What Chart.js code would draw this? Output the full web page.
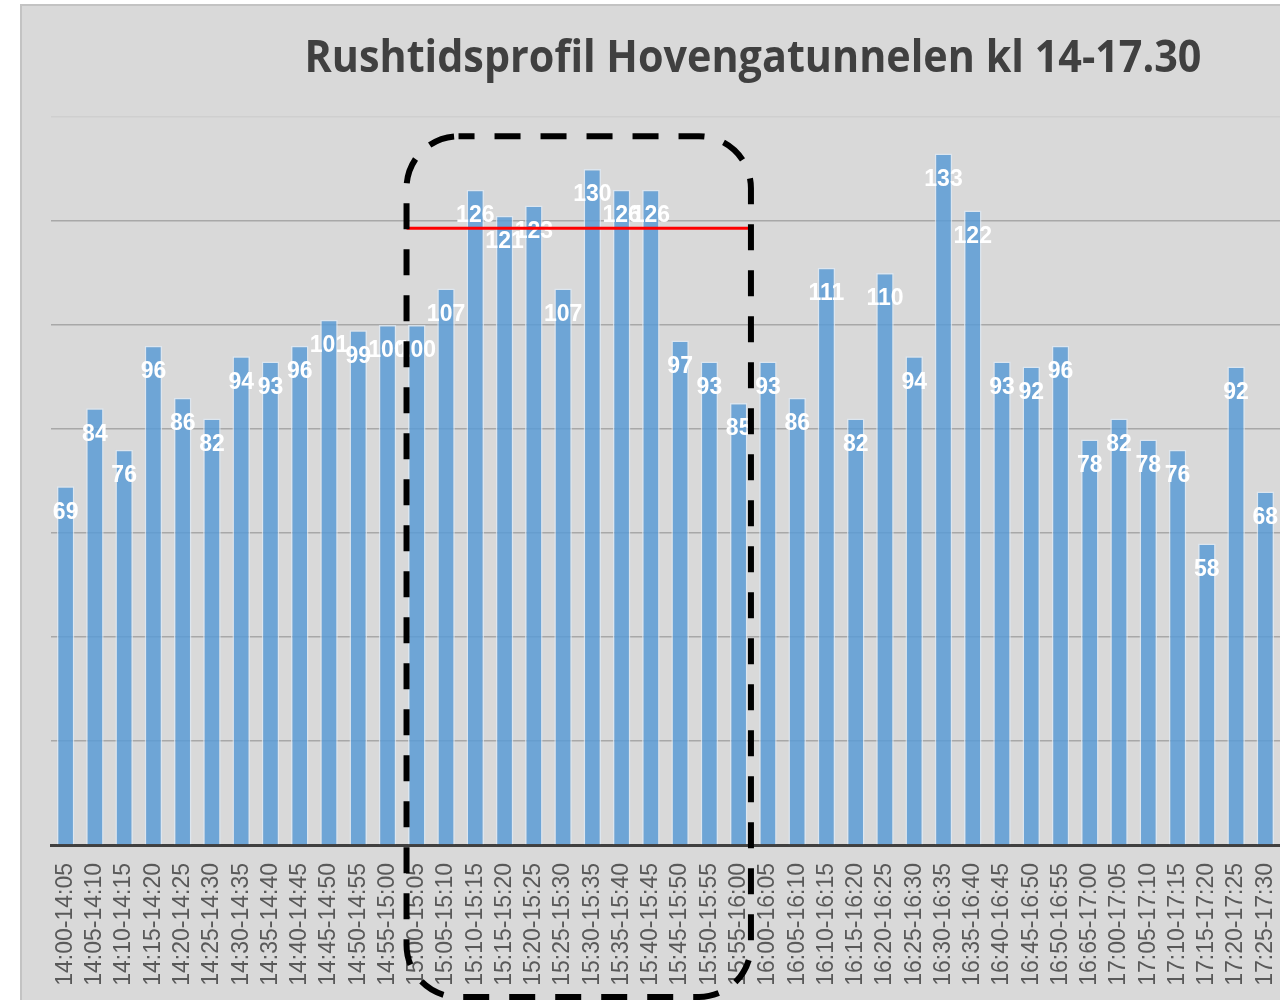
<!DOCTYPE html>
<html lang="no">
<head>
<meta charset="utf-8">
<title>Rushtidsprofil Hovengatunnelen</title>
<script src="https://cdn.jsdelivr.net/npm/chart.js@4.4.1/dist/chart.umd.min.js"></script>
<style>
  html, body { margin: 0; padding: 0; background: #ffffff; }
  #wrap { width: 1280px; height: 1000px; overflow: hidden; }
</style>
</head>
<body>
<div id="wrap"><canvas id="rushChart" width="1280" height="1000"></canvas></div>
<script>
// --- DATA ---
const tittel = "Rushtidsprofil Hovengatunnelen kl 14-17.30";

const intervaller = [
  "14:00-14:05", "14:05-14:10", "14:10-14:15", "14:15-14:20", "14:20-14:25", "14:25-14:30",
  "14:30-14:35", "14:35-14:40", "14:40-14:45", "14:45-14:50", "14:50-14:55", "14:55-15:00",
  "15:00-15:05", "15:05-15:10", "15:10-15:15", "15:15-15:20", "15:20-15:25", "15:25-15:30",
  "15:30-15:35", "15:35-15:40", "15:40-15:45", "15:45-15:50", "15:50-15:55", "15:55-16:00",
  "16:00-16:05", "16:05-16:10", "16:10-16:15", "16:15-16:20", "16:20-16:25", "16:25-16:30",
  "16:30-16:35", "16:35-16:40", "16:40-16:45", "16:45-16:50", "16:50-16:55", "16:65-17:00",
  "17:00-17:05", "17:05-17:10", "17:10-17:15", "17:15-17:20", "17:20-17:25", "17:25-17:30"
];

const antall = [
  69, 84, 76, 96, 86, 82, 94, 93, 96, 101, 99, 100,
  100, 107, 126, 121, 123, 107, 130, 126, 126, 97, 93, 85,
  93, 86, 111, 82, 110, 94, 133, 122, 93, 92, 96, 78,
  82, 78, 76, 58, 92, 68
];

// y-akse (ingen etiketter vises, bare rutenett)
const yMin = 0;
const yMax = 140;
const ySteg = 20;

// markert rushtime (indekser i intervaller) og snittnivå (rød strek)
const rushFra = 12;
const rushTil = 23;
const rushNivaa = 118.6;
const rammeTopp = 136.3;

// --- PLUGINS ---
const bakgrunn = {
  id: 'bakgrunn',
  beforeDraw(chart) {
    const ctx = chart.ctx;
    ctx.save();
    ctx.fillStyle = '#ffffff';
    ctx.fillRect(0, 0, chart.width, chart.height);
    ctx.fillStyle = '#d9d9d9';
    ctx.fillRect(20, 5, chart.width - 20, chart.height - 5);
    ctx.strokeStyle = '#c3c3c3';
    ctx.lineWidth = 2;
    ctx.beginPath();
    ctx.moveTo(21, chart.height);
    ctx.lineTo(21, 5);
    ctx.lineTo(chart.width, 5);
    ctx.stroke();
    ctx.restore();
  },
  afterDraw(chart) {
    const ctx = chart.ctx;
    ctx.save();
    ctx.fillStyle = '#404040';
    ctx.font = "bold 45px 'Open Sans', 'Noto Sans', sans-serif";
    ctx.textAlign = 'center';
    ctx.textBaseline = 'alphabetic';
    ctx.fillText(tittel, 753, 72, 897);
    ctx.restore();
  }
};

const verdiEtiketter = {
  id: 'verdiEtiketter',
  afterDatasetsDraw(chart) {
    const ctx = chart.ctx;
    const meta = chart.getDatasetMeta(0);
    ctx.save();
    ctx.fillStyle = '#ffffff';
    ctx.font = "bold 23px 'Liberation Sans', Arial, sans-serif";
    ctx.textAlign = 'center';
    ctx.textBaseline = 'middle';
    meta.data.forEach((bar, i) => {
      ctx.fillText(String(antall[i]), bar.x, bar.y + 26);
    });
    ctx.restore();
  }
};

const rushRamme = {
  id: 'rushRamme',
  afterDraw(chart) {
    const ctx = chart.ctx;
    const x = chart.scales.x;
    const y = chart.scales.y;
    const venstre = x.getPixelForValue(rushFra - 0.35);
    const hoyre = x.getPixelForValue(rushTil + 0.42);
    const topp = y.getPixelForValue(rammeTopp);
    const bunn = chart.height - 3;

    // rød strek for snittnivå
    ctx.save();
    ctx.strokeStyle = '#ff0000';
    ctx.lineWidth = 3;
    ctx.beginPath();
    ctx.moveTo(venstre, y.getPixelForValue(rushNivaa));
    ctx.lineTo(hoyre, y.getPixelForValue(rushNivaa));
    ctx.stroke();

    // stiplet avrundet ramme
    ctx.strokeStyle = '#000000';
    ctx.lineWidth = 6;
    ctx.setLineDash([26, 20]);
    ctx.lineDashOffset = 10;
    ctx.beginPath();
    ctx.roundRect(venstre, topp, hoyre - venstre, bunn - topp, 52);
    ctx.stroke();
    ctx.restore();
  }
};

// --- GRAF ---
const ctx = document.getElementById('rushChart').getContext('2d');
const rushChart = new Chart(ctx, {
  type: 'bar',
  data: {
    labels: intervaller,
    datasets: [{
      label: 'Antall',
      data: antall,
      backgroundColor: 'rgba(91, 155, 213, 0.85)',
      borderColor: 'rgba(222, 234, 246, 0.75)',
      borderWidth: 1.5,
      barPercentage: 0.6,
      categoryPercentage: 1
    }]
  },
  options: {
    responsive: false,
    animation: false,
    layout: { padding: { left: 51, top: 117, right: 0, bottom: 0 } },
    plugins: {
      legend: { display: false },
      title: { display: false },
      tooltip: { enabled: false }
    },
    scales: {
      x: {
        grid: { display: false },
        border: { display: true, color: '#404040', width: 3 },
        ticks: {
          autoSkip: false,
          minRotation: 90,
          maxRotation: 90,
          padding: 10,
          color: '#595959',
          font: { family: "'Liberation Sans', Arial, sans-serif", size: 23 }
        },
        afterFit(scale) {
          scale.height = 155;
          scale.paddingLeft = 0;
          scale.paddingRight = 0;
        }
      },
      y: {
        min: yMin,
        max: yMax,
        ticks: { display: false, stepSize: ySteg },
        border: { display: false },
        grid: {
          drawTicks: false,
          lineWidth: 1.5,
          color: (c) => c.tick && c.tick.value === yMax ? '#cfcfcf' : '#a8a8a8'
        },
        afterFit(scale) { scale.width = 0; }
      }
    }
  },
  plugins: [bakgrunn, verdiEtiketter, rushRamme]
});
</script>
</body>
</html>
